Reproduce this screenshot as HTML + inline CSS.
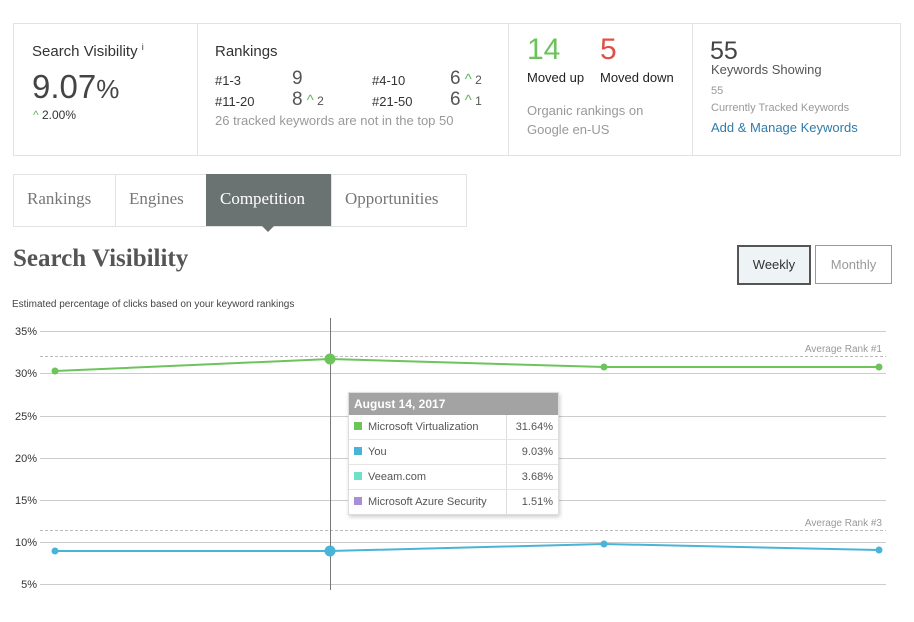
<!DOCTYPE html><html><head><style>
body{margin:0;width:914px;height:622px;background:#fff;font-family:"Liberation Sans",sans-serif;position:relative;overflow:hidden;color:#333}
.a{position:absolute;white-space:nowrap}
.g{color:#5cb85c}
</style></head><body>
<div class="a" style="left:13px;top:23px;width:886px;height:131px;border:1px solid #e2e2e2"></div>
<div class="a" style="left:197px;top:24px;width:1px;height:131px;background:#e2e2e2"></div>
<div class="a" style="left:508px;top:24px;width:1px;height:131px;background:#e2e2e2"></div>
<div class="a" style="left:692px;top:24px;width:1px;height:131px;background:#e2e2e2"></div>
<div class="a" style="left:32px;top:42px;font-size:15px">Search Visibility <sup style="font-size:9px">i</sup></div>
<div class="a" style="left:32px;top:68px;font-size:33px;color:#444">9.07<span style="font-size:26px">%</span></div>
<div class="a" style="left:33px;top:108px;font-size:12px"><span class="g">^</span> 2.00%</div>
<div class="a" style="left:215px;top:43px;font-size:15px">Rankings</div>
<div class="a" style="left:215px;top:73px;font-size:13px">#1-3</div>
<div class="a" style="left:292px;top:68px;font-size:19px;color:#555">9</div>
<div class="a" style="left:372px;top:73px;font-size:13px">#4-10</div>
<div class="a" style="left:450px;top:68px;font-size:19px;color:#555">6<span class="g" style="font-size:15px"> ^</span><span style="font-size:12px"> 2</span></div>
<div class="a" style="left:215px;top:94px;font-size:13px">#11-20</div>
<div class="a" style="left:292px;top:89px;font-size:19px;color:#555">8<span class="g" style="font-size:15px"> ^</span><span style="font-size:12px"> 2</span></div>
<div class="a" style="left:372px;top:94px;font-size:13px">#21-50</div>
<div class="a" style="left:450px;top:89px;font-size:19px;color:#555">6<span class="g" style="font-size:15px"> ^</span><span style="font-size:12px"> 1</span></div>
<div class="a" style="left:215px;top:113px;font-size:13px;color:#999">26 tracked keywords are not in the top 50</div>
<div class="a" style="left:527px;top:33px;font-size:30px;color:#6ac259">14</div>
<div class="a" style="left:600px;top:33px;font-size:30px;color:#e0504a">5</div>
<div class="a" style="left:527px;top:70px;font-size:13px;color:#222">Moved up</div>
<div class="a" style="left:600px;top:70px;font-size:13px;color:#222">Moved down</div>
<div class="a" style="left:527px;top:101px;font-size:13px;color:#999;line-height:19px">Organic rankings on<br>Google en-US</div>
<div class="a" style="left:710px;top:37px;font-size:25px;color:#444">55</div>
<div class="a" style="left:711px;top:62px;font-size:13px;color:#555">Keywords Showing</div>
<div class="a" style="left:711px;top:85px;font-size:11px;color:#999">55</div>
<div class="a" style="left:711px;top:102px;font-size:11px;color:#999">Currently Tracked Keywords</div>
<div class="a" style="left:711px;top:120px;font-size:13px;color:#2f7ba8">Add &amp; Manage Keywords</div>

<div class="a" style="left:13px;top:174px;width:452px;height:51px;border:1px solid #e2e2e2"></div>
<div class="a" style="left:115px;top:175px;width:1px;height:51px;background:#e2e2e2"></div>
<div class="a" style="left:331px;top:175px;width:1px;height:51px;background:#e2e2e2"></div>
<div class="a" style="left:206px;top:174px;width:125px;height:52px;background:#6b7372"></div>
<div class="a" style="left:262px;top:226px;width:0;height:0;border-left:6px solid transparent;border-right:6px solid transparent;border-top:6px solid #6b7372"></div>
<div class="a" style="left:27px;top:189px;font-size:17px;color:#777;font-family:'Liberation Serif',serif">Rankings</div>
<div class="a" style="left:129px;top:189px;font-size:17px;color:#777;font-family:'Liberation Serif',serif">Engines</div>
<div class="a" style="left:220px;top:189px;font-size:17px;color:#fff;font-family:'Liberation Serif',serif">Competition</div>
<div class="a" style="left:345px;top:189px;font-size:17px;color:#777;font-family:'Liberation Serif',serif">Opportunities</div>

<div class="a" style="left:13px;top:245px;font-size:25px;font-weight:bold;color:#555;font-family:'Liberation Serif',serif">Search Visibility</div>
<div class="a" style="left:737px;top:245px;width:70px;height:36px;border:2px solid #555;background:#eef3f5;font-size:13px;text-align:center;line-height:36px;color:#333">Weekly</div>
<div class="a" style="left:815px;top:245px;width:75px;height:37px;border:1px solid #999;font-size:13px;text-align:center;line-height:37px;color:#999">Monthly</div>
<div class="a" style="left:12px;top:299px;font-size:10px;color:#444">Estimated percentage of clicks based on your keyword rankings</div>

<svg class="a" style="left:0;top:0" width="914" height="622">
<g font-size="11" fill="#333" font-family="Liberation Sans" text-anchor="end">
<text x="37" y="335">35%</text><text x="37" y="377">30%</text><text x="37" y="420">25%</text><text x="37" y="462">20%</text><text x="37" y="504">15%</text><text x="37" y="546">10%</text><text x="37" y="588">5%</text></g>
<g stroke="#ccc" stroke-width="1">
<line x1="40" x2="886" y1="331.5" y2="331.5"/><line x1="40" x2="886" y1="373.5" y2="373.5"/><line x1="40" x2="886" y1="416.5" y2="416.5"/><line x1="40" x2="886" y1="458.5" y2="458.5"/><line x1="40" x2="886" y1="500.5" y2="500.5"/><line x1="40" x2="886" y1="542.5" y2="542.5"/><line x1="40" x2="886" y1="584.5" y2="584.5"/></g>
<line x1="40" x2="886" y1="356.5" y2="356.5" stroke="#bbb" stroke-dasharray="3,2"/>
<line x1="40" x2="886" y1="530.5" y2="530.5" stroke="#bbb" stroke-dasharray="3,2"/>
<text x="882" y="352" font-size="10" fill="#999" text-anchor="end">Average Rank #1</text>
<text x="882" y="526" font-size="10" fill="#999" text-anchor="end">Average Rank #3</text>
<line x1="330.5" x2="330.5" y1="318" y2="590" stroke="#777"/>
<polyline points="55,371 330,359 604,367 879,367" fill="none" stroke="#6cc45b" stroke-width="2"/>
<polyline points="55,551 330,551 604,544 879,550" fill="none" stroke="#4ab3d8" stroke-width="2"/>
<g fill="#6cc45b"><circle cx="55" cy="371" r="3.5"/><circle cx="330" cy="359" r="5.5"/><circle cx="604" cy="367" r="3.5"/><circle cx="879" cy="367" r="3.5"/></g>
<g fill="#4ab3d8"><circle cx="55" cy="551" r="3.5"/><circle cx="330" cy="551" r="5.5"/><circle cx="604" cy="544" r="3.5"/><circle cx="879" cy="550" r="3.5"/></g>
</svg>

<div class="a" style="left:348px;top:392px;width:209px;height:121px;background:#fff;border:1px solid #ddd;box-shadow:1px 2px 4px rgba(0,0,0,.2)">
<div style="height:22px;background:#a3a3a3;color:#fff;font-weight:bold;font-size:12px;line-height:22px;padding-left:5px">August 14, 2017</div>
<div style="position:absolute;left:157px;top:22px;width:1px;height:99px;background:#ddd"></div>
<div style="font-size:11px;color:#555">
<div style="height:24px;line-height:24px;border-bottom:1px solid #e5e5e5;position:relative"><span style="display:inline-block;width:8px;height:8px;background:#6cc45b;margin:0 6px 0 5px"></span>Microsoft Virtualization<span style="position:absolute;right:5px">31.64%</span></div>
<div style="height:24px;line-height:24px;border-bottom:1px solid #e5e5e5;position:relative"><span style="display:inline-block;width:8px;height:8px;background:#4ab3d8;margin:0 6px 0 5px"></span>You<span style="position:absolute;right:5px">9.03%</span></div>
<div style="height:24px;line-height:24px;border-bottom:1px solid #e5e5e5;position:relative"><span style="display:inline-block;width:8px;height:8px;background:#6fe0c8;margin:0 6px 0 5px"></span>Veeam.com<span style="position:absolute;right:5px">3.68%</span></div>
<div style="height:24px;line-height:24px;position:relative"><span style="display:inline-block;width:8px;height:8px;background:#a98fd8;margin:0 6px 0 5px"></span>Microsoft Azure Security<span style="position:absolute;right:5px">1.51%</span></div>
</div></div>
</body></html>
